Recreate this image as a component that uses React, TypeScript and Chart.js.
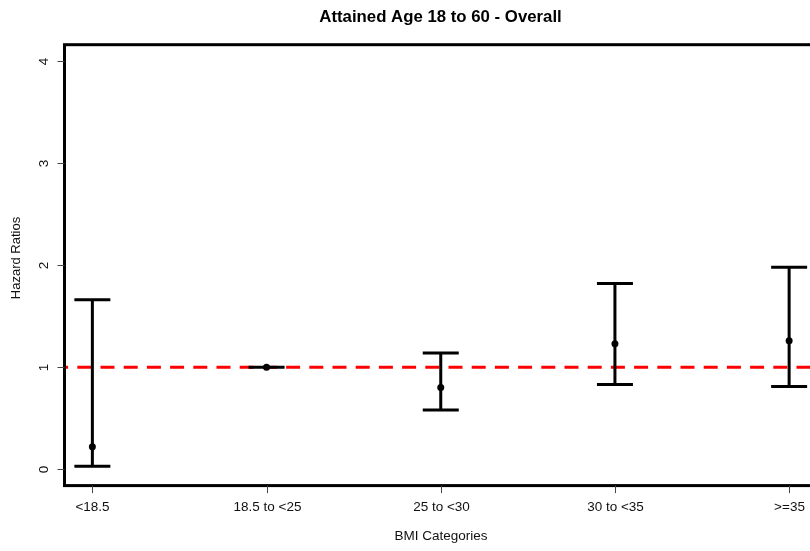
import React, { useEffect, useRef } from "react";
import { Chart, registerables } from "chart.js";

Chart.register(...registerables);

const titleText = "Attained Age 18 to 60 - Overall";
const xTitle = "BMI Categories";
const yTitle = "Hazard Ratios";
const categories = ["<18.5", "18.5 to <25", "25 to <30", "30 to <35", ">=35"];
const categoryPositions = [1, 2, 3, 4, 5];
const hazardRatios = [0.22, 1.0, 0.8, 1.23, 1.26];
const lowerCI = [0.03, 1.0, 0.58, 0.83, 0.81];
const upperCI = [1.66, 1.0, 1.14, 1.82, 1.98];
const yTicks = [0, 1, 2, 3, 4];
const referenceValue = 1;
const xRange = [0.84, 5.16];
const yRange = [-0.16, 4.16];

const W = 830;
const H = 551;
const FONT = "'Liberation Sans', Arial, sans-serif";

const decorPlugin = {
  id: "decor",
  beforeDatasetDraw(chart: any, args: any) {
    if (args.index !== 0) return;
    const ctx = chart.ctx;
    const xs = chart.scales.x;
    const ys = chart.scales.y;
    ctx.save();
    ctx.strokeStyle = "#000";
    ctx.lineWidth = 3;
    ctx.lineCap = "butt";
    const half = 18;
    for (let i = 0; i < categories.length; i++) {
      const px = xs.getPixelForValue(categoryPositions[i]);
      const lo = ys.getPixelForValue(lowerCI[i]);
      const hi = ys.getPixelForValue(upperCI[i]);
      ctx.beginPath();
      ctx.moveTo(px, lo);
      ctx.lineTo(px, hi);
      ctx.moveTo(px - half, lo);
      ctx.lineTo(px + half, lo);
      ctx.moveTo(px - half, hi);
      ctx.lineTo(px + half, hi);
      ctx.stroke();
    }
    ctx.restore();
  },
  afterDraw(chart: any) {
    const ctx = chart.ctx;
    const { left, right, top, bottom } = chart.chartArea;
    const xs = chart.scales.x;
    const ys = chart.scales.y;
    ctx.save();
    // box
    ctx.strokeStyle = "#000";
    ctx.lineWidth = 3;
    ctx.strokeRect(left, top, right - left, bottom - top);
    // y ticks
    ctx.lineWidth = 1;
    ctx.strokeStyle = "#444";
    ctx.fillStyle = "#111";
    ctx.font = `13.5px ${FONT}`;
    ctx.textAlign = "center";
    ctx.textBaseline = "middle";
    for (const t of yTicks) {
      const py = Math.round(ys.getPixelForValue(t)) + 0.5;
      ctx.beginPath();
      ctx.moveTo(left, py);
      ctx.lineTo(left - 7, py);
      ctx.stroke();
      ctx.save();
      ctx.translate(44, py);
      ctx.rotate(-Math.PI / 2);
      ctx.fillText(String(t), 0, 0);
      ctx.restore();
    }
    // x ticks
    for (let i = 0; i < categories.length; i++) {
      const px = Math.round(xs.getPixelForValue(categoryPositions[i])) + 0.5;
      ctx.beginPath();
      ctx.moveTo(px, bottom);
      ctx.lineTo(px, bottom + 7.5);
      ctx.stroke();
      ctx.fillText(categories[i], px, 507);
    }
    // axis titles
    ctx.fillText(xTitle, 441, 536);
    ctx.save();
    ctx.font = `13px ${FONT}`;
    ctx.translate(16.5, 258);
    ctx.rotate(-Math.PI / 2);
    ctx.fillText(yTitle, 0, 0);
    ctx.restore();
    // main title
    ctx.font = `bold 16.8px ${FONT}`;
    ctx.fillStyle = "#000";
    ctx.fillText(titleText, 440.5, 17);
    ctx.restore();
  },
};

export default function App() {
  const ref = useRef<HTMLCanvasElement | null>(null);
  useEffect(() => {
    if (!ref.current) return;
    const chart = new Chart(ref.current, {
      type: "scatter",
      data: {
        datasets: [
          {
            label: "Hazard ratio",
            data: categoryPositions.map((x, i) => ({ x, y: hazardRatios[i] })),
            pointRadius: 3.5,
            pointBackgroundColor: "#000",
            pointBorderColor: "#000",
            pointBorderWidth: 0,
            showLine: false,
            order: 0,
          },
          {
            label: "Reference",
            data: xRange.map((x) => ({ x, y: referenceValue })),
            showLine: true,
            borderColor: "#ff0000",
            borderWidth: 3,
            borderDash: [14, 9.2],
            borderDashOffset: 10.4,
            pointRadius: 0,
            order: 1,
          },
        ],
      },
      options: {
        responsive: false,
        animation: false,
        devicePixelRatio: 1,
        layout: { padding: { left: 64.5, top: 44.7, right: W - 817, bottom: H - 485.6 } },
        plugins: { legend: { display: false }, tooltip: { enabled: false }, title: { display: false } },
        scales: {
          x: { type: "linear", min: xRange[0], max: xRange[1], display: false },
          y: { type: "linear", min: yRange[0], max: yRange[1], display: false },
        },
      },
      plugins: [decorPlugin],
    });
    return () => chart.destroy();
  }, []);
  return (
    <div style={{ position: "fixed", left: 0, top: 0, width: 810, height: 551, overflow: "hidden", background: "#fff" }}>
      <canvas ref={ref} width={W} height={H} style={{ display: "block" }} />
    </div>
  );
}
